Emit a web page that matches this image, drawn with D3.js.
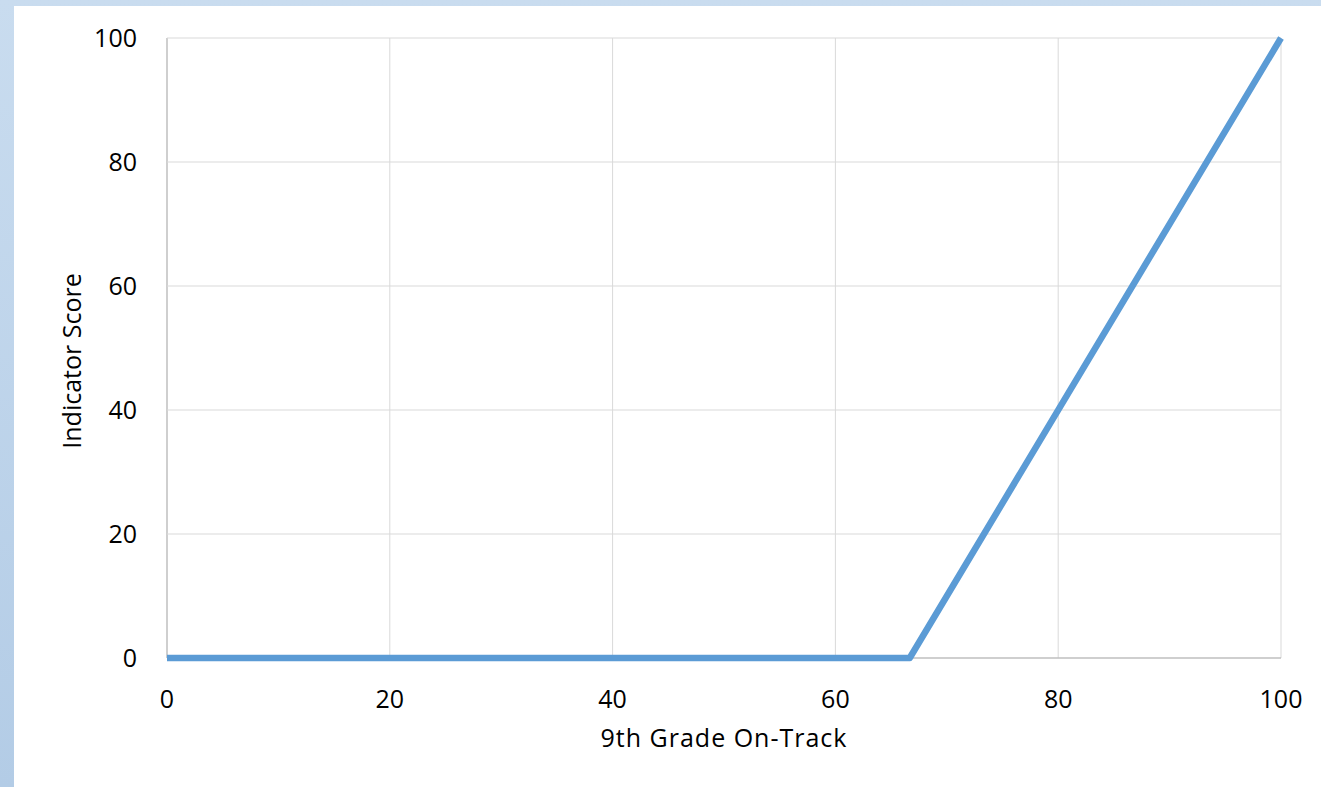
<!DOCTYPE html>
<html>
<head>
<meta charset="utf-8">
<script src="https://cdn.jsdelivr.net/npm/d3@7"></script>
<style>
  body { margin: 0; background: #fff; }
  svg { display: block; }
</style>
</head>
<body>
<div id="chart"></div>
<script>
var xValues = [0, 66.67, 100]
var yValues = [0, 0, 100]
var xTicks = [0, 20, 40, 60, 80, 100]
var yTicks = [0, 20, 40, 60, 80, 100]

var width = 1321,
  height = 787

var svg = d3.select("#chart")
  .append("svg")
  .attr("width", width)
  .attr("height", height)

var defs = svg.append("defs")
var grad = defs.append("linearGradient")
  .attr("id", "frame")
  .attr("x1", 0).attr("y1", 0)
  .attr("x2", 0).attr("y2", 1)
grad.append("stop").attr("offset", "0%").attr("stop-color", "#c9dcef")
grad.append("stop").attr("offset", "100%").attr("stop-color", "#b3cce6")

// slide-like frame behind the chart
svg.append("rect").attr("width", width).attr("height", height).attr("fill", "url(#frame)")
svg.append("rect").attr("x", 14).attr("y", 6).attr("width", width - 14).attr("height", height - 6).attr("fill", "#fff")

var x = d3.scaleLinear().domain([0, 100]).range([167, 1281])
var y = d3.scaleLinear().domain([0, 100]).range([658, 38])

var font = "'Open Sans', 'Liberation Sans', sans-serif"

// gridlines
svg.append("g")
  .selectAll("line.v")
  .data(xTicks)
  .enter()
  .append("line")
  .attr("x1", function (d) { return x(d) })
  .attr("x2", function (d) { return x(d) })
  .attr("y1", y(0))
  .attr("y2", y(100))
  .attr("stroke", function (d) { return d === 0 ? "#bfbfbf" : "#d9d9d9" })
  .attr("stroke-width", function (d) { return d === 0 ? 1.5 : 1 })

svg.append("g")
  .selectAll("line.h")
  .data(yTicks)
  .enter()
  .append("line")
  .attr("x1", x(0))
  .attr("x2", x(100))
  .attr("y1", function (d) { return y(d) })
  .attr("y2", function (d) { return y(d) })
  .attr("stroke", function (d) { return d === 0 ? "#bfbfbf" : "#d9d9d9" })
  .attr("stroke-width", function (d) { return d === 0 ? 1.5 : 1 })

// tick labels
svg.append("g")
  .selectAll("text")
  .data(yTicks)
  .enter()
  .append("text")
  .attr("x", 137)
  .attr("y", function (d) { return y(d) + 9 })
  .attr("text-anchor", "end")
  .style("font-family", font)
  .style("font-size", "25px")
  .attr("fill", "#000")
  .text(function (d) { return d })

svg.append("g")
  .selectAll("text")
  .data(xTicks)
  .enter()
  .append("text")
  .attr("x", function (d) { return x(d) })
  .attr("y", 708)
  .attr("text-anchor", "middle")
  .style("font-family", font)
  .style("font-size", "25px")
  .attr("fill", "#000")
  .text(function (d) { return d })

// axis titles
svg.append("text")
  .attr("x", (x(0) + x(100)) / 2)
  .attr("y", 747)
  .attr("text-anchor", "middle")
  .style("font-family", font)
  .style("font-size", "25px")
  .style("letter-spacing", "1px")
  .attr("fill", "#000")
  .text("9th Grade On-Track")

svg.append("text")
  .attr("transform", "translate(81,361) rotate(-90)")
  .attr("text-anchor", "middle")
  .style("font-family", font)
  .style("font-size", "25px")
  .attr("fill", "#000")
  .text("Indicator Score")

// the line
var line = d3.line()
  .x(function (d) { return x(d[0]) })
  .y(function (d) { return y(d[1]) })

svg.append("path")
  .datum(d3.zip(xValues, yValues))
  .attr("d", line)
  .attr("fill", "none")
  .attr("stroke", "#5b9bd5")
  .attr("stroke-width", 6.5)
  .attr("stroke-linejoin", "round")
</script>
</body>
</html>
